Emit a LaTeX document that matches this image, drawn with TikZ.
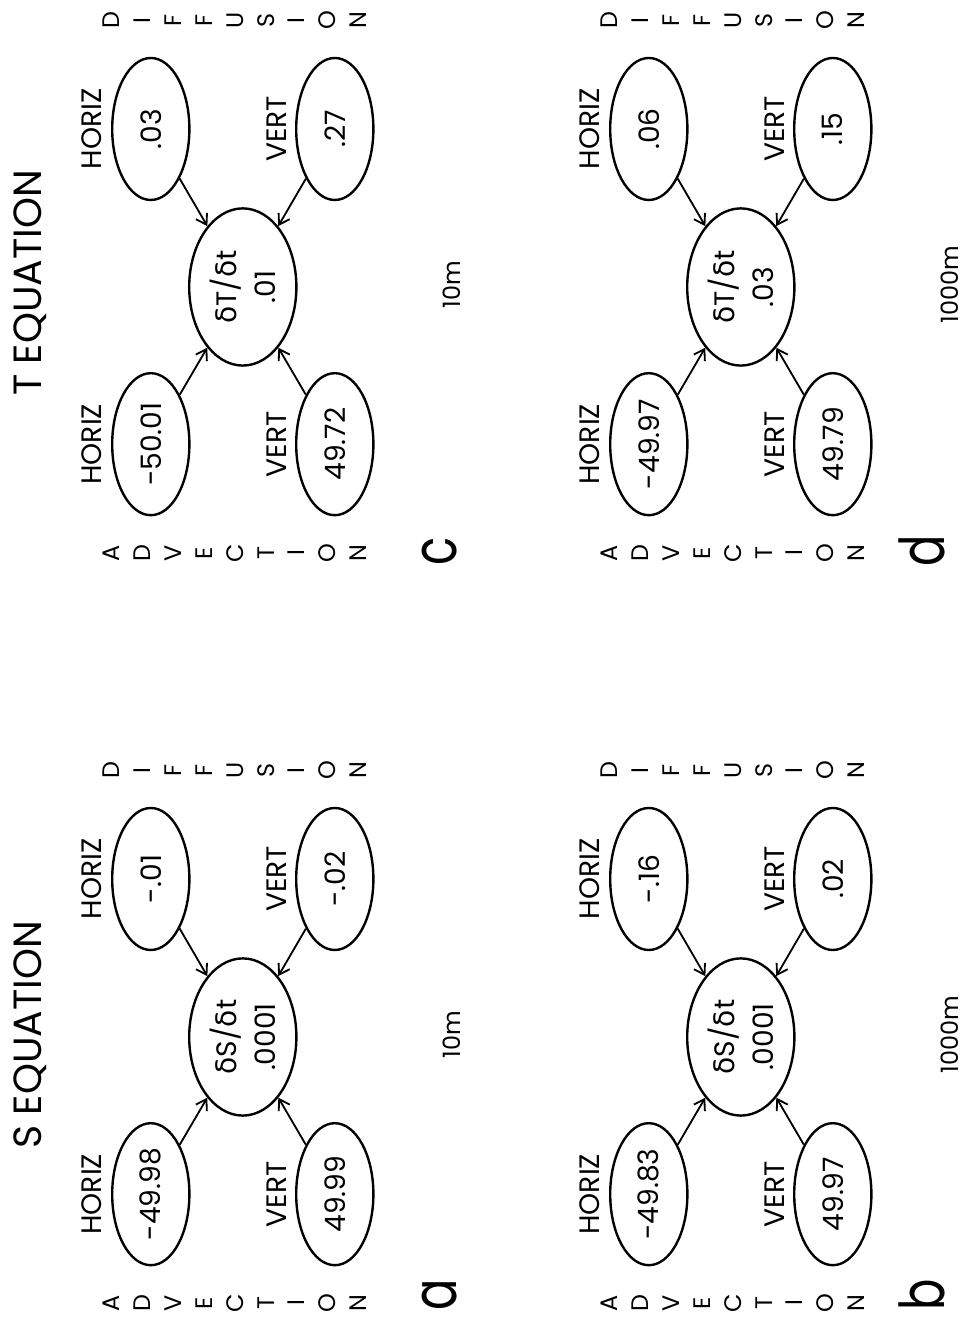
\documentclass[tikz,border=0pt]{standalone}
\usepackage{fontspec}
\setmainfont{Poppins}
\newfontfamily\greekfont{DejaVu Sans}
\usepackage{tikz}
\usetikzlibrary{positioning,shapes.geometric,arrows.meta}
\newcommand{\dlt}{{\greekfont δ}}
\tikzstyle{term} = [ellipse, draw=black, line width=1.7pt, inner sep=1pt, minimum width=3.55cm, minimum height=1.93cm]
\tikzstyle{rate} = [term, minimum width=3.93cm, minimum height=2.68cm, align=center]
\tikzstyle{arrow} = [line width=1.3pt, -{Straight Barb[length=2.5mm,width=3.2mm]}]
\tikzstyle{stack} = [align=center, font=\fontsize{17}{22}\selectfont]
\tikzstyle{tag} = [anchor=base, inner sep=0pt, xscale=0.75, font=\fontsize{44}{44}\selectfont]
\tikzstyle{depth} = [anchor=base, inner sep=0pt, font=\fontsize{17}{20}\selectfont]

\begin{document}
\begin{tikzpicture}[rotate=90, transform shape, font=\fontsize{20}{28}\selectfont]
\useasboundingbox (0,0) rectangle (32.975,24.2);

\node[font=\fontsize{28}{30}\selectfont] (stitle) at (7.1,23.45) {S EQUATION};
\node[font=\fontsize{28}{30}\selectfont] (ttitle) at (25.9,23.45) {T EQUATION};

% S equation, 10m
\begin{scope}[shift={(7.05,18.13)}]
	\node[rate] (a-rate) at (0,0) {\dlt S/\dlt t\\.0001};
	\node[term] (a-hadv) at (-3.93,2.3) {-49.98};
	\node[term] (a-vadv) at (-3.93,-2.3) {49.99};
	\node[term] (a-hdif) at (3.95,2.3) {-.01};
	\node[term] (a-vdif) at (3.95,-2.3) {-.02};
	\node[above=0.1cm of a-hadv] (a-hadv-name) {HORIZ};
	\node[above=0.1cm of a-vadv] (a-vadv-name) {VERT};
	\node[above=0.1cm of a-hdif] (a-hdif-name) {HORIZ};
	\node[above=0.1cm of a-vdif] (a-vdif-name) {VERT};
	\node[stack] (a-adv) at (-6.65,0.2) {A\\D\\V\\E\\C\\T\\I\\O\\N};
	\node[stack] (a-dif) at (6.67,0.2) {D\\I\\F\\F\\U\\S\\I\\O\\N};
	\node[tag] (a-tag) at (-6.45,-5.35) {a};
	\node[depth] (a-depth) at (0.05,-5.45) {10m};
	\draw[arrow] (a-hadv) -- (a-rate);
	\draw[arrow] (a-vadv) -- (a-rate);
	\draw[arrow] (a-hdif) -- (a-rate);
	\draw[arrow] (a-vdif) -- (a-rate);
\end{scope}

% S equation, 1000m
\begin{scope}[shift={(7.05,5.68)}]
	\node[rate] (b-rate) at (0,0) {\dlt S/\dlt t\\.0001};
	\node[term] (b-hadv) at (-3.93,2.3) {-49.83};
	\node[term] (b-vadv) at (-3.93,-2.3) {49.97};
	\node[term] (b-hdif) at (3.95,2.3) {-.16};
	\node[term] (b-vdif) at (3.95,-2.3) {.02};
	\node[above=0.1cm of b-hadv] (b-hadv-name) {HORIZ};
	\node[above=0.1cm of b-vadv] (b-vadv-name) {VERT};
	\node[above=0.1cm of b-hdif] (b-hdif-name) {HORIZ};
	\node[above=0.1cm of b-vdif] (b-vdif-name) {VERT};
	\node[stack] (b-adv) at (-6.65,0.2) {A\\D\\V\\E\\C\\T\\I\\O\\N};
	\node[stack] (b-dif) at (6.67,0.2) {D\\I\\F\\F\\U\\S\\I\\O\\N};
	\node[tag] (b-tag) at (-6.45,-5.1) {b};
	\node[depth] (b-depth) at (0.05,-5.45) {1000m};
	\draw[arrow] (b-hadv) -- (b-rate);
	\draw[arrow] (b-vadv) -- (b-rate);
	\draw[arrow] (b-hdif) -- (b-rate);
	\draw[arrow] (b-vdif) -- (b-rate);
\end{scope}

% T equation, 10m
\begin{scope}[shift={(25.8,18.13)}]
	\node[rate] (c-rate) at (0,0) {\dlt T/\dlt t\\.01};
	\node[term] (c-hadv) at (-3.93,2.3) {-50.01};
	\node[term] (c-vadv) at (-3.93,-2.3) {49.72};
	\node[term] (c-hdif) at (3.95,2.3) {.03};
	\node[term] (c-vdif) at (3.95,-2.3) {.27};
	\node[above=0.1cm of c-hadv] (c-hadv-name) {HORIZ};
	\node[above=0.1cm of c-vadv] (c-vadv-name) {VERT};
	\node[above=0.1cm of c-hdif] (c-hdif-name) {HORIZ};
	\node[above=0.1cm of c-vdif] (c-vdif-name) {VERT};
	\node[stack] (c-adv) at (-6.65,0.2) {A\\D\\V\\E\\C\\T\\I\\O\\N};
	\node[stack] (c-dif) at (6.67,0.2) {D\\I\\F\\F\\U\\S\\I\\O\\N};
	\node[tag] (c-tag) at (-6.6,-5.35) {c};
	\node[depth] (c-depth) at (0.05,-5.45) {10m};
	\draw[arrow] (c-hadv) -- (c-rate);
	\draw[arrow] (c-vadv) -- (c-rate);
	\draw[arrow] (c-hdif) -- (c-rate);
	\draw[arrow] (c-vdif) -- (c-rate);
\end{scope}

% T equation, 1000m
\begin{scope}[shift={(25.8,5.68)}]
	\node[rate] (d-rate) at (0,0) {\dlt T/\dlt t\\.03};
	\node[term] (d-hadv) at (-3.93,2.3) {-49.97};
	\node[term] (d-vadv) at (-3.93,-2.3) {49.79};
	\node[term] (d-hdif) at (3.95,2.3) {.06};
	\node[term] (d-vdif) at (3.95,-2.3) {.15};
	\node[above=0.1cm of d-hadv] (d-hadv-name) {HORIZ};
	\node[above=0.1cm of d-vadv] (d-vadv-name) {VERT};
	\node[above=0.1cm of d-hdif] (d-hdif-name) {HORIZ};
	\node[above=0.1cm of d-vdif] (d-vdif-name) {VERT};
	\node[stack] (d-adv) at (-6.65,0.2) {A\\D\\V\\E\\C\\T\\I\\O\\N};
	\node[stack] (d-dif) at (6.67,0.2) {D\\I\\F\\F\\U\\S\\I\\O\\N};
	\node[tag] (d-tag) at (-6.6,-5.1) {d};
	\node[depth] (d-depth) at (0.05,-5.45) {1000m};
	\draw[arrow] (d-hadv) -- (d-rate);
	\draw[arrow] (d-vadv) -- (d-rate);
	\draw[arrow] (d-hdif) -- (d-rate);
	\draw[arrow] (d-vdif) -- (d-rate);
\end{scope}
\end{tikzpicture}
\end{document}
